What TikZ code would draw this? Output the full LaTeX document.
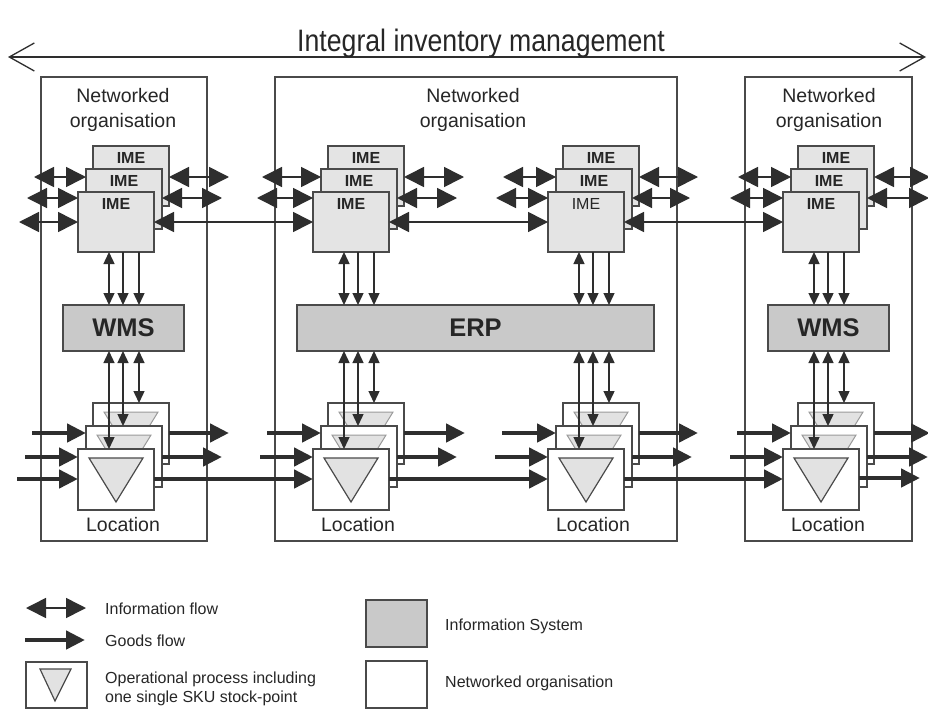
\documentclass[tikz,border=0pt]{standalone}
\usepackage{fontspec}
\setmainfont{Liberation Sans}
\usetikzlibrary{arrows.meta,calc}
\definecolor{ink}{HTML}{2E2E2E}
\definecolor{txt}{HTML}{262626}
\definecolor{boxline}{HTML}{4A4A4A}
\definecolor{imefill}{HTML}{E4E4E4}
\definecolor{sysfill}{HTML}{C9C9C9}
\definecolor{trifill}{HTML}{E2E2E2}
\definecolor{hidline}{HTML}{9A9A9A}

% stock-point triangle inside a location box
\newcommand\stocktri[2]{%
  \draw[#2] ([shift={(11pt,-9pt)}]#1.north west) -- ([shift={(65pt,-9pt)}]#1.north west)
    -- ([shift={(38pt,-53pt)}]#1.north west) -- cycle;}

% one site: a stack of three IMEs and a stack of three locations
\newcommand\sitestack[3]{%
  \node[locbox] (#2lb) at (#1+15,403) {};
  \stocktri{#2lb}{hidtri}
  \node[locbox] (#2lm) at (#1+8,426) {};
  \stocktri{#2lm}{hidtri}
  \node[locbox] (#2lf) at (#1,449) {};
  \stocktri{#2lf}{fronttri}
  \node[loctag] (#2lt) at (#1+45,525) {Location};
  \node[ime] (#2ib) at (#1+15,146) {};
  \node[imetag] (#2tb) at ([yshift=-12pt]#2ib.north) {IME};
  \node[ime] (#2im) at (#1+8,169) {};
  \node[imetag] (#2tm) at ([yshift=-12pt]#2im.north) {IME};
  \node[ime] (#2if) at (#1,192) {};
  \node[imetag,#3] (#2tf) at ([yshift=-12pt]#2if.north) {IME};
}

% information links between a site and its information system
\newcommand\syslinks[2]{%
  \coordinate (#1v1) at ([xshift=-7pt]#1if.south);
  \coordinate (#1v2) at ([xshift=7pt]#1if.south);
  \coordinate (#1v3) at ([xshift=23pt]#1if.south);
  \draw[vboth] (#1v1) -- (#1v1 |- #2.north);
  \draw[vdown] (#1v2) -- (#1v2 |- #2.north);
  \draw[vdown] (#1v3) -- (#1v3 |- #2.north);
  \draw[vboth] (#1v1 |- #2.south) -- (#1v1 |- #1lf.north);
  \draw[vboth] (#1v2 |- #2.south) -- (#1v2 |- #1lm.north);
  \draw[vboth] (#1v3 |- #2.south) -- (#1v3 |- #1lb.north);
}

\tikzset{
  infotip/.tip={Triangle[length=20pt,width=20pt]},
  smalltip/.tip={Triangle[length=12pt,width=11pt]},
  goodstip/.tip={Triangle[length=19pt,width=18pt]},
  spantip/.tip={Straight Barb[length=25pt,width=28pt,line width=1.3pt]},
}

\begin{document}
\begin{tikzpicture}[x=1pt,y=-1pt,
  orgbox/.style={draw=boxline,line width=1.4pt,anchor=north west,inner sep=0pt,outer sep=0pt},
  ime/.style={draw=boxline,fill=imefill,line width=1.2pt,minimum width=76pt,minimum height=60pt,
    anchor=north west,inner sep=0pt,outer sep=0pt},
  locbox/.style={draw=boxline,fill=white,line width=1.2pt,minimum width=76pt,minimum height=61pt,
    anchor=north west,inner sep=0pt,outer sep=0pt},
  sysbox/.style={draw=boxline,fill=sysfill,line width=1.2pt,minimum height=46pt,anchor=north west,
    inner sep=0pt,outer sep=0pt,text=txt,font=\bfseries\fontsize{25.5}{25.5}\selectfont},
  imetag/.style={inner sep=0pt,text=txt,font=\bfseries\fontsize{16}{16}\selectfont},
  loctag/.style={inner sep=0pt,text=txt,font=\fontsize{19.5}{25}\selectfont},
  orgtag/.style={inner sep=0pt,text=txt,align=center,font=\fontsize{19.5}{25}\selectfont},
  legtag/.style={inner sep=0pt,text=txt,anchor=base west,font=\fontsize{16}{19}\selectfont},
  hidtri/.style={draw=hidline,fill=trifill,line width=1pt},
  fronttri/.style={draw=boxline,fill=trifill,line width=1.2pt},
  info/.style={draw=ink,line width=1.6pt,arrows={infotip-infotip}},
  goods/.style={draw=ink,line width=4.5pt,arrows={-goodstip}},
  vboth/.style={draw=ink,line width=1.4pt,arrows={smalltip-smalltip}},
  vdown/.style={draw=ink,line width=1.4pt,arrows={-smalltip}},
  span/.style={draw=ink,line width=1.3pt,arrows={spantip-spantip}},
  legbox/.style={draw=boxline,line width=1.2pt},
]
\path[use as bounding box,fill=white] (0,0) rectangle (928,709);

% integral inventory management span
\coordinate (ttlL) at (8,57);
\coordinate (ttlR) at (926,57);
\draw[span] (ttlL) -- (ttlR);
\node[inner sep=0pt,anchor=base,text=txt,font=\fontsize{31}{31}\selectfont] (ttl) at (481,52)
  {\scalebox{0.86}[1]{Integral inventory management}};

% networked organisations
\node[orgbox,minimum width=166pt,minimum height=464pt] (orgA) at (41,77) {};
\node[orgbox,minimum width=402pt,minimum height=464pt] (orgB) at (275,77) {};
\node[orgbox,minimum width=167pt,minimum height=464pt] (orgD) at (745,77) {};
\node[orgtag] (orgAt) at (123,110) {Networked\\organisation};
\node[orgtag] (orgBt) at (473,110) {Networked\\organisation};
\node[orgtag] (orgDt) at (829,110) {Networked\\organisation};

% information systems
\node[sysbox,minimum width=121pt] (wmsA) at (63,305) {WMS};
\node[sysbox,minimum width=357pt] (erp) at (297,305) {ERP};
\node[sysbox,minimum width=121pt] (wmsD) at (768,305) {WMS};

% sites
\sitestack{78}{A}{}
\sitestack{313}{B}{}
\sitestack{548}{C}{font=\fontsize{16}{16}\selectfont}
\sitestack{783}{D}{}

% information flows between IMEs
\coordinate (Ai1) at (34,177);  \draw[info] (Ai1) -- (Ai1 -| Aim.west);
\coordinate (Ai2) at (27,198);  \draw[info] (Ai2) -- (Ai2 -| Aif.west);
\coordinate (Ai3) at (19,222);  \draw[info] (Ai3) -- (Ai3 -| Aif.west);
\coordinate (Ao1) at (229,177); \draw[info] (Ao1 -| Aib.east) -- (Ao1);
\coordinate (Ao2) at (222,198); \draw[info] (Ao2 -| Aim.east) -- (Ao2);
\draw[info] (Aif.east |- Ai3) -- (Bif.west |- Ai3);

\coordinate (Bi1) at (262,177); \draw[info] (Bi1) -- (Bi1 -| Bim.west);
\coordinate (Bi2) at (257,198); \draw[info] (Bi2) -- (Bi2 -| Bif.west);
\coordinate (Bo1) at (464,177); \draw[info] (Bo1 -| Bib.east) -- (Bo1);
\coordinate (Bo2) at (457,198); \draw[info] (Bo2 -| Bim.east) -- (Bo2);
\draw[info] (Bif.east |- Ai3) -- (Cif.west |- Ai3);

\coordinate (Ci1) at (503,177); \draw[info] (Ci1) -- (Ci1 -| Cim.west);
\coordinate (Ci2) at (496,198); \draw[info] (Ci2) -- (Ci2 -| Cif.west);
\coordinate (Co1) at (698,177); \draw[info] (Co1 -| Cib.east) -- (Co1);
\coordinate (Co2) at (690,198); \draw[info] (Co2 -| Cim.east) -- (Co2);
\draw[info] (Cif.east |- Ai3) -- (Dif.west |- Ai3);

\coordinate (Di1) at (738,177); \draw[info] (Di1) -- (Di1 -| Dim.west);
\coordinate (Di2) at (730,198); \draw[info] (Di2) -- (Di2 -| Dif.west);
\coordinate (Do1) at (930,177); \draw[info] (Do1 -| Dib.east) -- (Do1);
\coordinate (Do2) at (929,198); \draw[info] (Do2 -| Dim.east) -- (Do2);

% links to WMS / ERP
\syslinks{A}{wmsA}
\syslinks{B}{erp}
\syslinks{C}{erp}
\syslinks{D}{wmsD}

% goods flows between locations
\coordinate (Ag1) at (32,433);  \draw[goods] (Ag1) -- (Ag1 -| Alm.west);
\coordinate (Ag2) at (25,457);  \draw[goods] (Ag2) -- (Ag2 -| Alf.west);
\coordinate (Ag3) at (17,479);  \draw[goods] (Ag3) -- (Ag3 -| Alf.west);
\coordinate (Ah1) at (229,433); \draw[goods] (Ah1 -| Alb.east) -- (Ah1);
\coordinate (Ah2) at (222,457); \draw[goods] (Ah2 -| Alm.east) -- (Ah2);
\draw[goods] (Alf.east |- Ag3) -- (Blf.west |- Ag3);

\coordinate (Bg1) at (267,433); \draw[goods] (Bg1) -- (Bg1 -| Blm.west);
\coordinate (Bg2) at (260,457); \draw[goods] (Bg2) -- (Bg2 -| Blf.west);
\coordinate (Bh1) at (465,433); \draw[goods] (Bh1 -| Blb.east) -- (Bh1);
\coordinate (Bh2) at (457,457); \draw[goods] (Bh2 -| Blm.east) -- (Bh2);
\draw[goods] (Blf.east |- Ag3) -- (Clf.west |- Ag3);

\coordinate (Cg1) at (502,433); \draw[goods] (Cg1) -- (Cg1 -| Clm.west);
\coordinate (Cg2) at (495,457); \draw[goods] (Cg2) -- (Cg2 -| Clf.west);
\coordinate (Ch1) at (698,433); \draw[goods] (Ch1 -| Clb.east) -- (Ch1);
\coordinate (Ch2) at (692,457); \draw[goods] (Ch2 -| Clm.east) -- (Ch2);
\draw[goods] (Clf.east |- Ag3) -- (Dlf.west |- Ag3);

\coordinate (Dg1) at (737,433); \draw[goods] (Dg1) -- (Dg1 -| Dlm.west);
\coordinate (Dg2) at (730,457); \draw[goods] (Dg2) -- (Dg2 -| Dlf.west);
\coordinate (Dh1) at (930,433); \draw[goods] (Dh1 -| Dlb.east) -- (Dh1);
\coordinate (Dh2) at (928,457); \draw[goods] (Dh2 -| Dlm.east) -- (Dh2);
\coordinate (Dh3) at (920,478); \draw[goods] (Dh3 -| Dlf.east) -- (Dh3);

% legend
\coordinate (lgI1) at (26,608); \coordinate (lgI2) at (86,608);
\draw[info] (lgI1) -- (lgI2);
\node[legtag] (lgIt) at (105,614) {Information flow};
\coordinate (lgG1) at (25,640); \coordinate (lgG2) at (85,640);
\draw[goods] (lgG1) -- (lgG2);
\node[legtag] (lgGt) at (105,646) {Goods flow};
\draw[legbox] (26,662) rectangle (87,708);
\draw[fronttri] (40,669) -- (71,669) -- (55,701) -- cycle;
\node[legtag] (lgOt1) at (105,683) {Operational process including};
\node[legtag] (lgOt2) at (105,702) {one single SKU stock-point};
\draw[legbox,fill=sysfill] (366,600) rectangle (427,647);
\node[legtag] (lgSt) at (445,630) {Information System};
\draw[legbox] (366,661) rectangle (427,708);
\node[legtag] (lgNt) at (445,687) {Networked organisation};
\end{tikzpicture}
\end{document}
